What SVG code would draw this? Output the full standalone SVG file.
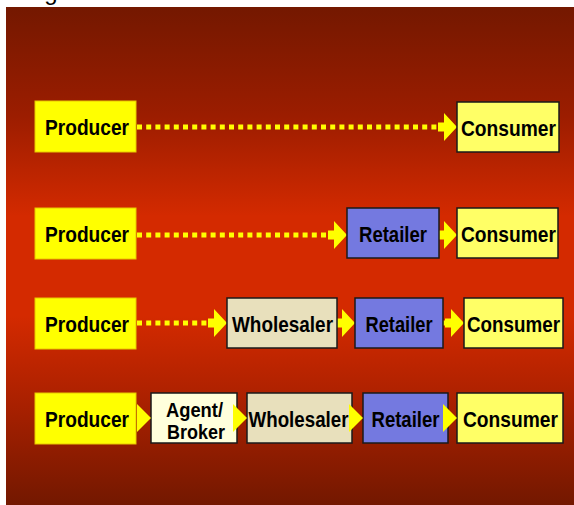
<svg xmlns="http://www.w3.org/2000/svg" xmlns:xlink="http://www.w3.org/1999/xlink" width="574" height="505" viewBox="0 0 574 505">
<style>
.lbl{font-family:"Liberation Sans",Arial,sans-serif;font-weight:bold;font-size:22px;fill:#000;text-anchor:middle}
.sm{font-size:20px}
.box{stroke:#1a1a1a;stroke-width:1.5}
.prod{fill:#ffff00;stroke:#e8c800;stroke-width:1}
.cons{fill:#ffff66}
.ret{fill:#7479e0}
.whol{fill:#e8e0bc}
.agent{fill:#ffffdc}
.dots{stroke:#ffff00;stroke-width:5;stroke-dasharray:5 4.2;fill:none}
.ah{fill:#ffff00}
</style>
<defs>
<linearGradient id="bg" x1="0" y1="0" x2="0" y2="1">
<stop offset="0" stop-color="#741800"/>
<stop offset="0.22" stop-color="#9c1d00"/>
<stop offset="0.42" stop-color="#d42a00"/>
<stop offset="0.62" stop-color="#d42a00"/>
<stop offset="0.8" stop-color="#a82000"/>
<stop offset="1" stop-color="#731800"/>
</linearGradient>
<path id="arr" d="M-19,-4.5 H-13 V-14 L0,0 L-13,14 V4.5 H-19 Z"/>
<path id="tri" d="M-14,-14 L0,0 L-14,14 Z"/>
</defs>
<rect width="574" height="505" fill="#ffffff"/>
<text x="51" y="0" style="font-family:'Liberation Sans',Arial,sans-serif;font-size:24px;fill:#000;text-anchor:middle">g</text>
<rect x="6" y="7" width="568" height="498" fill="url(#bg)"/>

<g id="connectors">
<line class="dots" x1="137" y1="127" x2="440" y2="127"/>
<use xlink:href="#arr" href="#arr" class="ah" x="457" y="127"/>
<line class="dots" x1="137" y1="235" x2="328" y2="235"/>
<use xlink:href="#arr" href="#arr" class="ah" x="347" y="235"/>
<use xlink:href="#arr" href="#arr" class="ah" x="457" y="235"/>
<line class="dots" x1="137" y1="323" x2="209" y2="323"/>
<use xlink:href="#arr" href="#arr" class="ah" x="227" y="323"/>
<use xlink:href="#arr" href="#arr" class="ah" x="355" y="323"/>
<line class="dots" x1="443" y1="323" x2="447" y2="323"/>
<use xlink:href="#arr" href="#arr" class="ah" x="464" y="323"/>
</g>

<g id="r1-producer"><rect class="prod" x="35" y="101" width="101" height="51"/><text class="lbl" x="87" y="135" textLength="84" lengthAdjust="spacingAndGlyphs">Producer</text></g>
<g id="r1-consumer"><rect class="box cons" x="457" y="102" width="102" height="50"/><text class="lbl" x="508.5" y="135.5" textLength="95" lengthAdjust="spacingAndGlyphs">Consumer</text></g>

<g id="r2-producer"><rect class="prod" x="35" y="208" width="101" height="51"/><text class="lbl" x="87" y="242" textLength="84" lengthAdjust="spacingAndGlyphs">Producer</text></g>
<g id="r2-retailer"><rect class="box ret" x="347" y="208" width="92" height="50"/><text class="lbl" x="393" y="241.5" textLength="68" lengthAdjust="spacingAndGlyphs">Retailer</text></g>
<g id="r2-consumer"><rect class="box cons" x="457" y="208" width="101" height="50"/><text class="lbl" x="508.5" y="241.5" textLength="95" lengthAdjust="spacingAndGlyphs">Consumer</text></g>

<g id="r3-producer"><rect class="prod" x="35" y="298" width="101" height="51"/><text class="lbl" x="87" y="332" textLength="84" lengthAdjust="spacingAndGlyphs">Producer</text></g>
<g id="r3-wholesaler"><rect class="box whol" x="227" y="298" width="110" height="50"/><text class="lbl" x="282.5" y="331.5" textLength="101" lengthAdjust="spacingAndGlyphs">Wholesaler</text></g>
<g id="r3-retailer"><rect class="box ret" x="355" y="298" width="88" height="50"/><text class="lbl" x="399" y="331.5" textLength="67" lengthAdjust="spacingAndGlyphs">Retailer</text></g>
<g id="r3-consumer"><rect class="box cons" x="464" y="298" width="99" height="50"/><text class="lbl" x="513.5" y="331.5" textLength="93" lengthAdjust="spacingAndGlyphs">Consumer</text></g>

<g id="r4-producer"><rect class="prod" x="35" y="393" width="101" height="51"/><text class="lbl" x="87" y="427" textLength="84" lengthAdjust="spacingAndGlyphs">Producer</text></g>
<g id="r4-agent"><rect class="box agent" x="151" y="393" width="86" height="50"/><text class="lbl sm" x="194.5" y="417" textLength="57" lengthAdjust="spacingAndGlyphs">Agent/</text><text class="lbl sm" x="196" y="439" textLength="58" lengthAdjust="spacingAndGlyphs">Broker</text></g>
<g id="r4-wholesaler"><rect class="box whol" x="247" y="393" width="105" height="50"/><text class="lbl" x="298.5" y="426.5" textLength="100" lengthAdjust="spacingAndGlyphs">Wholesaler</text></g>
<g id="r4-retailer"><rect class="box ret" x="363" y="393" width="85" height="50"/><text class="lbl" x="405.5" y="426.5" textLength="68" lengthAdjust="spacingAndGlyphs">Retailer</text></g>
<g id="r4-consumer"><rect class="box cons" x="457" y="393" width="106" height="50"/><text class="lbl" x="510.5" y="426.5" textLength="95" lengthAdjust="spacingAndGlyphs">Consumer</text></g>

<g id="connectors-row4">
<use xlink:href="#tri" href="#tri" class="ah" x="151" y="418"/>
<use xlink:href="#tri" href="#tri" class="ah" x="247" y="418"/>
<use xlink:href="#tri" href="#tri" class="ah" x="363" y="418"/>
<use xlink:href="#tri" href="#tri" class="ah" x="457" y="418"/>
</g>
</svg>
